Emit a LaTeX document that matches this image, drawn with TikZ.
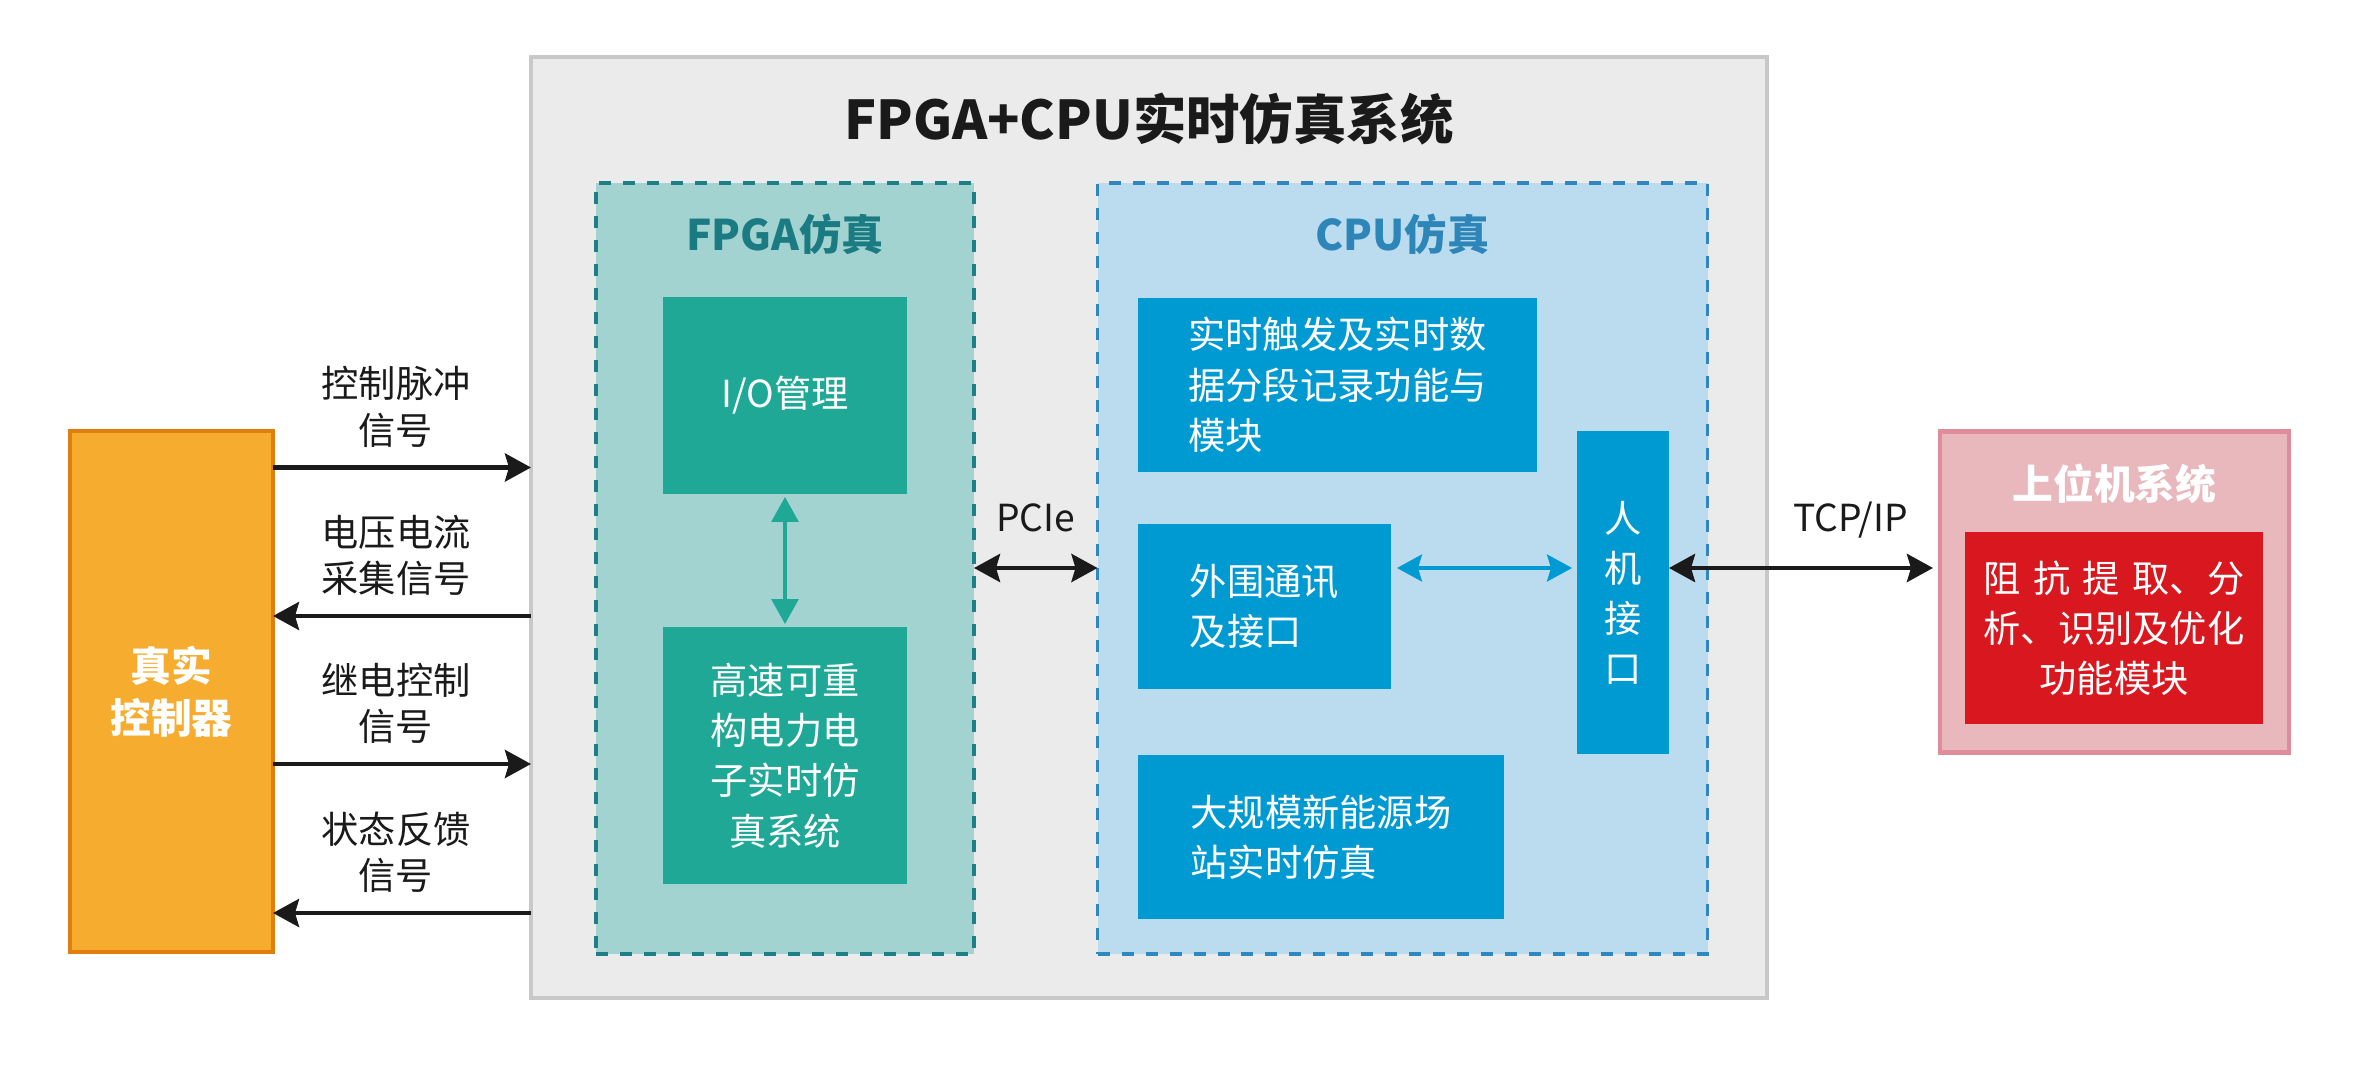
\documentclass[tikz,border=0pt]{standalone}
\usepackage{fontspec}
\setmainfont{Noto Sans CJK SC}
\usetikzlibrary{positioning,arrows.meta}

\definecolor{sysfill}{HTML}{EBEBEB}
\definecolor{sysline}{HTML}{C8C8C8}
\definecolor{fpgafill}{HTML}{A3D3D0}
\definecolor{fpgaline}{HTML}{1E7F86}
\definecolor{fpgatext}{HTML}{1B7B82}
\definecolor{fpgabox}{HTML}{20A897}
\definecolor{cpufill}{HTML}{BBDCEE}
\definecolor{cpuline}{HTML}{2C88BD}
\definecolor{cputext}{HTML}{2E86B8}
\definecolor{cpubox}{HTML}{009AD2}
\definecolor{ctrlfill}{HTML}{F5AC2F}
\definecolor{ctrlline}{HTML}{E07F0E}
\definecolor{hostfill}{HTML}{E9B8BC}
\definecolor{hostline}{HTML}{DF8C9C}
\definecolor{funcfill}{HTML}{D8171F}
\definecolor{arrowc}{HTML}{1A1A1A}

\begin{document}
\begin{tikzpicture}[thick,
        blk/.style={rectangle, inner sep=0pt, outer sep=0pt, text=white, align=center,
            font=\fontsize{10.6}{14.3}\selectfont},
        area/.style={rectangle, inner sep=0pt, outer sep=0pt, line width=1pt,
            dash pattern=on 0.12cm off 0.12cm},
        head/.style={inner sep=0pt, font=\bfseries\fontsize{12}{14}\selectfont},
        lbl/.style={inner sep=0pt, align=center, text=arrowc,
            font=\fontsize{10.6}{13.2}\selectfont},
        sig/.style={draw=arrowc, line width=1.3pt,
            >={Stealth[length=0.26cm, width=0.28cm, inset=0.04cm]}},
        tea/.style={draw=fpgabox, line width=0.9pt, shorten <=0.03cm, shorten >=0.03cm,
            >={Triangle[length=0.25cm, width=0.27cm]}},
        blu/.style={draw=cpubox, line width=0.9pt, shorten <=0.06cm, shorten >=0.05cm,
            >={Stealth[length=0.25cm, width=0.27cm, inset=0.04cm]}}]
    \useasboundingbox (0,0) rectangle (23.54,-10.74);

    % Nodes
    \node (sys) [draw=sysline, fill=sysfill, line width=1.3pt, outer sep=0pt,
        minimum width=12.36cm, minimum height=9.41cm] at (11.49,-5.275) {};
    \node (title) [inner sep=0pt, text=arrowc, font=\bfseries\fontsize{15.2}{18}\selectfont]
        at (11.49,-1.19) {FPGA+CPU实时仿真系统};

    \node (fpga) [area, draw=fpgaline, fill=fpgafill, minimum width=3.78cm, minimum height=7.71cm]
        at (7.85,-5.685) {};
    \node (fpgatitle) [head, text=fpgatext, below=0.3cm of fpga.north] {FPGA仿真};
    \node (io) [blk, fill=fpgabox, minimum width=2.44cm, minimum height=1.97cm]
        at (7.85,-3.955) {I/O管理};
    \node (rt) [blk, fill=fpgabox, minimum width=2.44cm, minimum height=2.57cm,
        below=1.33cm of io] {高速可重\\构电力电\\子实时仿\\真系统};

    \node (cpu) [area, draw=cpuline, fill=cpufill, minimum width=6.10cm, minimum height=7.71cm]
        at (14.025,-5.685) {};
    \node (cputitle) [head, text=cputext, below=0.3cm of cpu.north] {CPU仿真};
    \node (trig) [blk, fill=cpubox, align=left, minimum width=3.99cm, minimum height=1.74cm]
        at (13.375,-3.85) {实时触发及实时数\\据分段记录功能与\\模块};
    \node (periph) [blk, fill=cpubox, align=left, minimum width=2.53cm, minimum height=1.64cm]
        at (12.645,-6.065) {外围通讯\\及接口};
    \node (big) [blk, fill=cpubox, align=left, minimum width=3.66cm, minimum height=1.64cm]
        at (13.21,-8.37) {大规模新能源场\\站实时仿真};
    \node (hmi) [blk, fill=cpubox, minimum width=0.92cm, minimum height=3.23cm]
        at (16.23,-5.93) {人\\机\\接\\口};

    \node (ctrl) [blk, draw=ctrlline, fill=ctrlfill, line width=1.4pt,
        font=\bfseries\fontsize{11.6}{14.8}\selectfont,
        minimum width=2.03cm, minimum height=5.21cm] at (1.715,-6.915) {真实\\控制器};

    \node (host) [draw=hostline, fill=hostfill, line width=1.4pt, outer sep=0pt,
        minimum width=3.49cm, minimum height=3.21cm] at (21.145,-5.92) {};
    \node (hosttitle) [head, text=white, font=\bfseries\fontsize{11.6}{14}\selectfont,
        below=0.31cm of host.north] {上位机系统};
    \node (func) [blk, fill=funcfill, minimum width=2.98cm, minimum height=1.92cm]
        at (21.14,-6.28) {\makebox[7em][s]{阻 抗 提 取、分}\\析、识别及优化\\功能模块};

    % Edges
    \coordinate (bus) at (0,-5.68);
    \coordinate (s1) at (0,-4.675);
    \coordinate (s2) at (0,-6.16);
    \coordinate (s3) at (0,-7.64);
    \coordinate (s4) at (0,-9.13);

    \draw[sig, ->] (ctrl.east |- s1) -- node[lbl, above=0.18cm, xshift=-0.06cm] {控制脉冲\\信号} (sys.west |- s1);
    \draw[sig, <-] (ctrl.east |- s2) -- node[lbl, above=0.18cm, xshift=-0.06cm] {电压电流\\采集信号} (sys.west |- s2);
    \draw[sig, ->] (ctrl.east |- s3) -- node[lbl, above=0.18cm, xshift=-0.06cm] {继电控制\\信号} (sys.west |- s3);
    \draw[sig, <-] (ctrl.east |- s4) -- node[lbl, above=0.18cm, xshift=-0.06cm] {状态反馈\\信号} (sys.west |- s4);

    \draw[tea, <->] (io) -- (rt);
    \draw[sig, <->] (fpga.east |- bus) -- node[lbl, anchor=base, yshift=0.36cm] {PCIe} (cpu.west |- bus);
    \draw[blu, <->] (periph.east |- bus) -- (hmi.west |- bus);
    \draw[sig, <->, shorten >=0.07cm] (hmi.east |- bus) -- node[lbl, anchor=base, yshift=0.36cm, xshift=0.46cm] {TCP/IP} (host.west |- bus);
\end{tikzpicture}
\end{document}
